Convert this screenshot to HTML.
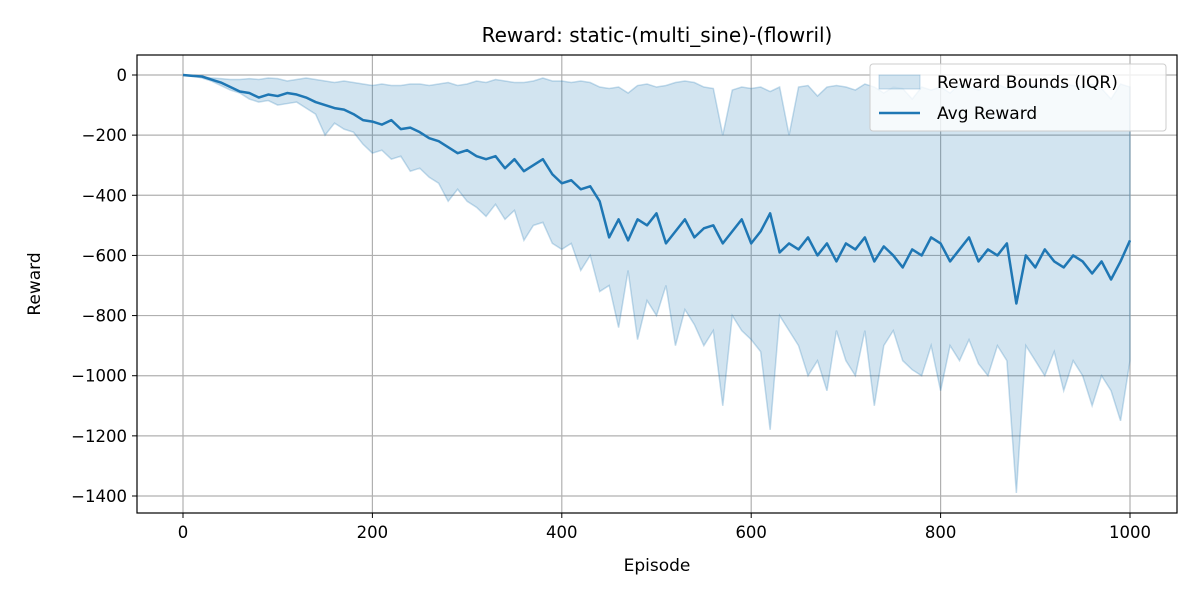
<!DOCTYPE html>
<html><head><meta charset="utf-8"><style>
html,body{margin:0;padding:0;background:#fff;}
svg{display:block;font-family:"DejaVu Sans","Liberation Sans",sans-serif;}
</style></head><body>
<svg id="chart" width="1200" height="600" viewBox="0 0 1200 600">
<rect width="1200" height="600" fill="#fff"/>
<text x="657" y="42" font-size="20" text-anchor="middle" fill="#000">Reward: static-(multi_sine)-(flowril)</text>
<g id="grid"></g>
<g id="marks"></g>
<rect x="137" y="55" width="1040" height="458" fill="none" stroke="#000" stroke-width="1.2"/>
<g id="ticks"></g>
<text x="657" y="571" font-size="17" text-anchor="middle">Episode</text>
<text x="40" y="284" font-size="17" text-anchor="middle" transform="rotate(-90 40 284)">Reward</text>
<g>
<rect x="870" y="64" width="296" height="67" rx="3" fill="#fff" fill-opacity="0.8" stroke="#ccc"/>
<rect x="879" y="75" width="41" height="14" fill="#1f77b4" fill-opacity="0.2" stroke="#1f77b4" stroke-opacity="0.25"/>
<text x="937" y="88" font-size="17">Reward Bounds (IQR)</text>
<line x1="879" y1="113" x2="920" y2="113" stroke="#1f77b4" stroke-width="2.5"/>
<text x="937" y="119" font-size="17">Avg Reward</text>
</g>
</svg>
<script>
const episodes=[0,10,20,30,40,50,60,70,80,90,100,110,120,130,140,150,160,170,180,190,200,210,220,230,240,250,260,270,280,290,300,310,320,330,340,350,360,370,380,390,400,410,420,430,440,450,460,470,480,490,500,510,520,530,540,550,560,570,580,590,600,610,620,630,640,650,660,670,680,690,700,710,720,730,740,750,760,770,780,790,800,810,820,830,840,850,860,870,880,890,900,910,920,930,940,950,960,970,980,990,1000];
const avgReward=[0,-3,-5,-15,-25,-40,-55,-60,-75,-65,-70,-60,-65,-75,-90,-100,-110,-115,-130,-150,-155,-165,-150,-180,-175,-190,-210,-220,-240,-260,-250,-270,-280,-270,-310,-280,-320,-300,-280,-330,-360,-350,-380,-370,-420,-540,-480,-550,-480,-500,-460,-560,-520,-480,-540,-510,-500,-560,-520,-480,-560,-520,-460,-590,-560,-580,-540,-600,-560,-620,-560,-580,-540,-620,-570,-600,-640,-580,-600,-540,-560,-620,-580,-540,-620,-580,-600,-560,-760,-600,-640,-580,-620,-640,-600,-620,-660,-620,-680,-620,-550];
const upperBound=[0,-2,-5,-10,-12,-15,-15,-12,-15,-10,-12,-20,-15,-10,-15,-20,-25,-20,-25,-30,-35,-30,-35,-35,-30,-30,-35,-30,-25,-35,-30,-20,-25,-15,-20,-25,-25,-20,-10,-20,-20,-25,-20,-25,-40,-45,-40,-60,-35,-30,-40,-35,-25,-20,-25,-40,-45,-200,-50,-40,-45,-40,-55,-40,-200,-40,-35,-70,-40,-35,-40,-50,-30,-40,-60,-40,-45,-80,-40,-50,-40,-60,-30,-40,-50,-40,-30,-45,-40,-30,-35,-40,-45,-30,-35,-40,-30,-45,-80,-30,-40];
const lowerBound=[0,-3,-10,-20,-35,-50,-60,-80,-90,-85,-100,-95,-90,-110,-130,-200,-160,-180,-190,-230,-260,-250,-280,-270,-320,-310,-340,-360,-420,-380,-420,-440,-470,-430,-480,-450,-550,-500,-490,-560,-580,-560,-650,-600,-720,-700,-840,-650,-880,-750,-800,-700,-900,-780,-830,-900,-850,-1100,-800,-850,-880,-920,-1180,-800,-850,-900,-1000,-950,-1050,-850,-950,-1000,-850,-1100,-900,-850,-950,-980,-1000,-900,-1050,-900,-950,-880,-960,-1000,-900,-950,-1390,-900,-950,-1000,-920,-1050,-950,-1000,-1100,-1000,-1050,-1150,-950];
const xTicks=[0,200,400,600,800,1000];
const yTicks=[0,-200,-400,-600,-800,-1000,-1200,-1400];

const NS="http://www.w3.org/2000/svg";
const X=e=>183+(e-0)*(1130-183)/1000;
const Y=v=>75+(0-v)*(496-75)/1400;
function mk(tag,attrs,parent){const el=document.createElementNS(NS,tag);for(const k in attrs)el.setAttribute(k,attrs[k]);parent.appendChild(el);return el;}
const grid=document.getElementById('grid'),marks=document.getElementById('marks'),ticks=document.getElementById('ticks');
xTicks.forEach(t=>{
  const g=mk('line',{x1:X(t),x2:X(t),y1:55,y2:513,stroke:'#b0b0b0','stroke-width':1.2},grid);
  
  
  const tk=mk('line',{x1:X(t),x2:X(t),y1:513,y2:518,stroke:'#000','stroke-width':1},ticks);
  
  
  const tx=mk('text',{x:X(t),y:538,'font-size':16.5,'text-anchor':'middle'},ticks);
  tx.textContent=String(t);
  
  
});
yTicks.forEach(t=>{
  const g=mk('line',{x1:137,x2:1177,y1:Y(t),y2:Y(t),stroke:'#b0b0b0','stroke-width':1.2},grid);
  
  
  const tk=mk('line',{x1:132,x2:137,y1:Y(t),y2:Y(t),stroke:'#000','stroke-width':1},ticks);
  
  
  const tx=mk('text',{x:127,y:Y(t)+6,'font-size':16.5,'text-anchor':'end'},ticks);
  tx.textContent=String(t).replace('-','\u2212');
  
  
});
let d='M'+episodes.map((e,i)=>X(e)+','+Y(upperBound[i])).join('L');
for(let i=episodes.length-1;i>=0;i--)d+='L'+X(episodes[i])+','+Y(lowerBound[i]);
d+='Z';
const band=mk('path',{d:d,fill:'#1f77b4','fill-opacity':0.2,stroke:'#1f77b4','stroke-opacity':0.25,'stroke-width':1.5},marks);


const line=mk('polyline',{points:episodes.map((e,i)=>X(e)+','+Y(avgReward[i])).join(' '),fill:'none',stroke:'#1f77b4','stroke-width':2.5,'stroke-linejoin':'round'},marks);


</script>
</body></html>
